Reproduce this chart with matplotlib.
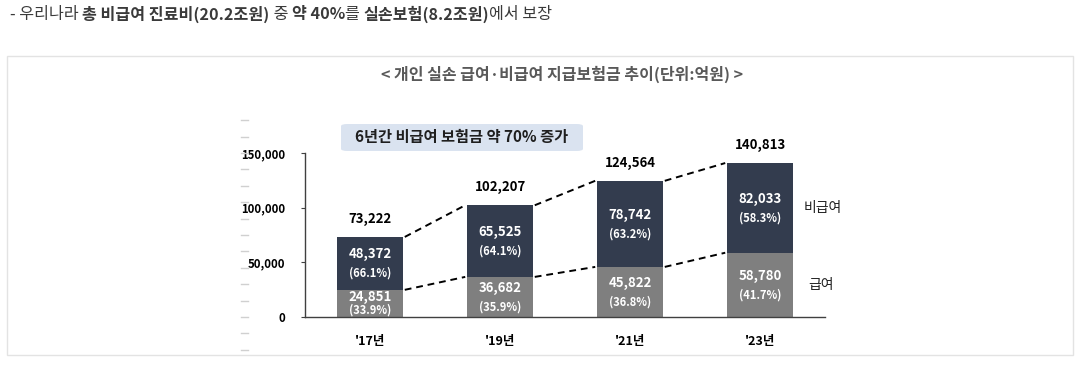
import matplotlib.pyplot as plt
from matplotlib.patches import FancyBboxPatch, Rectangle
from matplotlib.transforms import blended_transform_factory

plt.rcParams['font.family'] = ['Noto Sans CJK KR', 'DejaVu Sans']

years = ["'17년", "'19년", "'21년", "'23년"]
pay = [24851, 36682, 45822, 58780]          # 급여
nonpay = [48372, 65525, 78742, 82033]       # 비급여
totals = [73222, 102207, 124564, 140813]
pay_pct = ["(33.9%)", "(35.9%)", "(36.8%)", "(41.7%)"]
nonpay_pct = ["(66.1%)", "(64.1%)", "(63.2%)", "(58.3%)"]
yticks = [0, 50000, 100000, 150000]
side_marks = [-30000, -15000, 0, 15000, 30000, 45000, 60000, 75000, 90000,
              105000, 120000, 135000, 150000, 165000, 180000]

W, H = 1083, 366
dark = '#333c4e'
gray = '#7f7f7f'


def px(x, y):
    return x / W, 1 - y / H


fig = plt.figure(figsize=(W / 100, H / 100), dpi=100)

# heading line above the chart box
parts = [("- 우리나라 ", 'normal'), ("총 비급여 진료비(20.2조원)", 'bold'), (" 중 ", 'normal'),
         ("약 40%", 'bold'), ("를 ", 'normal'), ("실손보험(8.2조원)", 'bold'), ("에서 보장", 'normal')]
renderer = fig.canvas.get_renderer()
xcur = 10
for txt, w in parts:
    t = fig.text(*px(xcur, 14), txt, fontsize=11.6, fontweight=w, color='#3a3a3a', va='center', ha='left')
    bb = t.get_window_extent(renderer=renderer)
    xcur += bb.width

# chart box
fig.patches.append(Rectangle(px(7, 355), 1066 / W, 299 / H, transform=fig.transFigure,
                             facecolor='none', edgecolor='#e3e3e3', lw=1))
fig.text(*px(562, 74), "< 개인 실손 급여·비급여 지급보험금 추이(단위:억원) >", fontsize=11.5,
         fontweight='bold', color='#595959', ha='center', va='center')

# highlight box
x0, y0 = px(341, 151)
fig.patches.append(FancyBboxPatch((x0, y0), 242 / W, 27 / H, transform=fig.transFigure,
                                  boxstyle='round,pad=0,rounding_size=0.006',
                                  facecolor='#dae3f0', edgecolor='none'))
fig.text(*px(462, 137), "6년간 비급여 보험금 약 70% 증가", fontsize=11, fontweight='bold',
         color='#1f1f1f', ha='center', va='center')

ax = fig.add_axes([305 / W, 49 / H, 520 / W, 164 / H])
x = list(range(len(years)))
bw = 0.515
ax.bar(x, pay, width=bw, color=gray, zorder=2)
ax.bar(x, nonpay, width=bw, bottom=pay, color=dark, zorder=2)

ax.set_xlim(-0.5, 3.5)
ax.set_ylim(0, 150000)
for s in ['top', 'right']:
    ax.spines[s].set_visible(False)
for s in ['left', 'bottom']:
    ax.spines[s].set_color('#404040')
    ax.spines[s].set_linewidth(1)
ax.set_yticks(yticks)
ax.set_yticklabels([f"{v:,}" for v in yticks], fontsize=8.2, fontweight='bold')
ax.tick_params(axis='y', length=3, pad=11, color='#404040')
ax.set_xticks(x)
ax.set_xticklabels(years, fontsize=9, fontweight='bold')
ax.tick_params(axis='x', length=0, pad=13)

# connecting dashed lines
for i in range(len(x) - 1):
    for vals in (totals, pay):
        ax.plot([x[i] + bw / 2 + 0.01, x[i + 1] - bw / 2 - 0.01], [vals[i], vals[i + 1]],
                color='black', lw=1.4, ls=(0, (3.5, 2.5)), zorder=1)

for i in x:
    ax.annotate(f"{totals[i]:,}", (i, totals[i]), xytext=(0, 13), textcoords='offset points',
                ha='center', va='center', fontsize=9.5, fontweight='bold', annotation_clip=False)
    mid = pay[i] + nonpay[i] / 2
    ax.annotate(f"{nonpay[i]:,}", (i, mid), xytext=(0, 6.5), textcoords='offset points',
                ha='center', va='center', fontsize=9.5, fontweight='bold', color='white')
    ax.annotate(nonpay_pct[i], (i, mid), xytext=(0, -7), textcoords='offset points',
                ha='center', va='center', fontsize=8, fontweight='bold', color='white')
    off = 4.5 if i == 0 else 6.5
    ax.annotate(f"{pay[i]:,}", (i, pay[i] / 2), xytext=(0, off), textcoords='offset points',
                ha='center', va='center', fontsize=9.5, fontweight='bold', color='white')
    ax.annotate(pay_pct[i], (i, pay[i] / 2), xytext=(0, -off - 0.5), textcoords='offset points',
                ha='center', va='center', fontsize=8, fontweight='bold', color='white')

last = len(x) - 1
ax.text(last + bw / 2 + 0.08, pay[last] + nonpay[last] / 2, "비급여", fontsize=10,
        ha='left', va='center', color='#1f1f1f')
ax.text(last + bw / 2 + 0.11, pay[last] / 2, "급여", fontsize=10,
        ha='left', va='center', color='#1f1f1f')

# faint marks left of the axis
tr = blended_transform_factory(fig.transFigure, ax.transData)
for v in side_marks:
    ax.plot([241 / W, 248 / W], [v, v], transform=tr, color='#d0d0d0', lw=1, clip_on=False)

fig.savefig('out.png', dpi=100)
